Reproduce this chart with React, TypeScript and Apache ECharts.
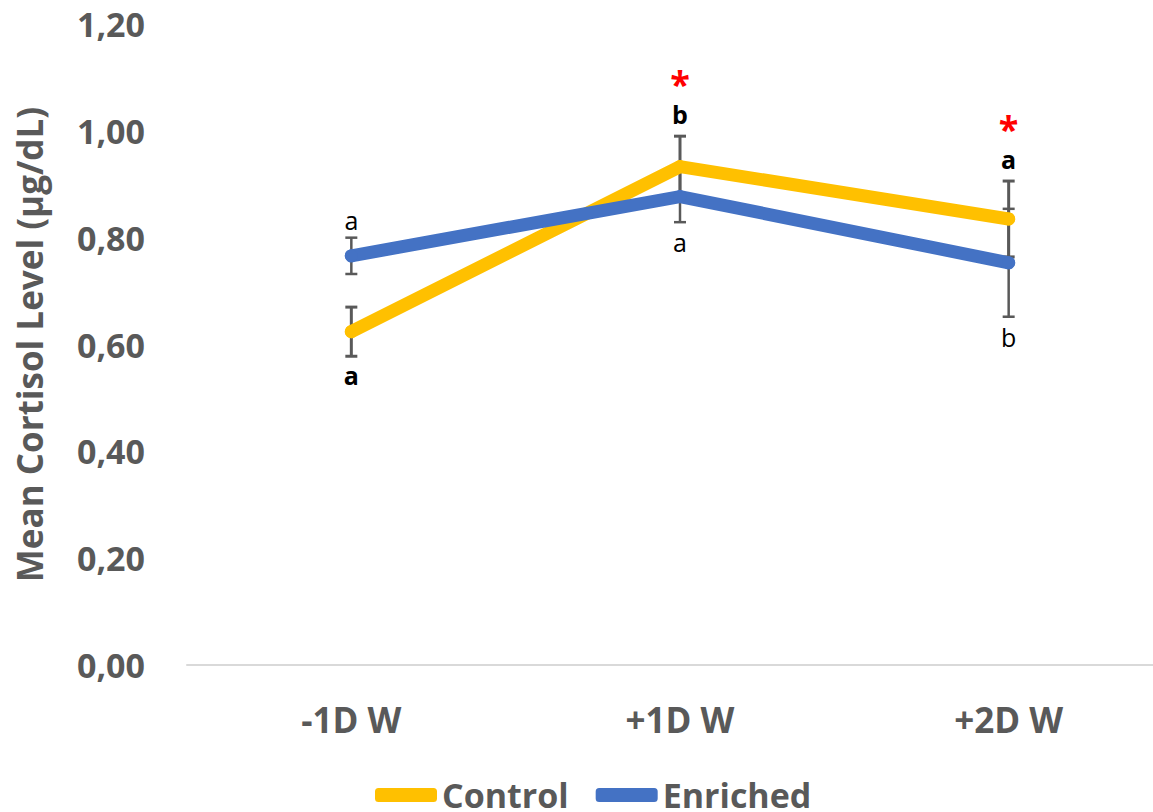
import React, { useEffect, useRef } from "react";
import * as echarts from "echarts";

const categories = ["-1D W", "+1D W", "+2D W"];
const controlMean = [0.624, 0.933, 0.835];
const controlErr = [0.046, 0.057, 0.071];
const enrichedMean = [0.766, 0.877, 0.753];
const enrichedErr = [0.034, 0.048, 0.101];
const controlLetters = ["a", "b", "a"];
const controlLetterSide = ["below", "above", "above"];
const enrichedLetters = ["a", "a", "b"];
const enrichedLetterSide = ["above", "below", "below"];
const significance = ["", "*", "*"];
const yTicks = [0, 0.2, 0.4, 0.6, 0.8, 1.0, 1.2];

const FONT = "Open Sans";
const GRAY = "#595959";

function errorBarSeries(name: string, means: number[], errs: number[], width: number) {
  return {
    type: "custom",
    name: name + "-err",
    z: 1,
    silent: true,
    data: means.map((m, i) => [i, m - errs[i], m + errs[i]]),
    renderItem: (params: any, api: any) => {
      const lo = api.coord([api.value(0), api.value(1)]);
      const hi = api.coord([api.value(0), api.value(2)]);
      const hw = 6;
      const style = { stroke: GRAY, lineWidth: width };
      return {
        type: "group",
        children: [
          { type: "line", shape: { x1: lo[0], y1: lo[1], x2: hi[0], y2: hi[1] }, style },
          { type: "line", shape: { x1: lo[0] - hw, y1: lo[1], x2: lo[0] + hw, y2: lo[1] }, style },
          { type: "line", shape: { x1: hi[0] - hw, y1: hi[1], x2: hi[0] + hw, y2: hi[1] }, style },
        ],
      };
    },
  };
}

export default function App() {
  const ref = useRef<HTMLDivElement>(null);
  useEffect(() => {
    if (!ref.current) return;
    const chart = echarts.init(ref.current, undefined, { renderer: "svg" });
    const option: any = {
      animation: false,
      textStyle: { fontFamily: FONT },
      grid: { left: 187, right: 7, top: 24, bottom: 147 },
      legend: {
        left: 370,
        top: 772,
        itemWidth: 62,
        itemHeight: 14,
        itemGap: 27,
        icon: "roundRect",
        data: ["Control", "Enriched"],
        textStyle: { fontFamily: FONT, fontSize: 34, fontWeight: "bold", color: GRAY, lineHeight: 36 },
      },
      xAxis: {
        type: "category",
        data: categories,
        boundaryGap: true,
        axisLine: { lineStyle: { color: "#d9d9d9", width: 2 } },
        axisTick: { show: false },
        axisLabel: { fontFamily: FONT, fontSize: 35, fontWeight: "bold", color: GRAY, margin: 37 },
      },
      yAxis: {
        type: "value",
        min: 0,
        max: 1.2,
        interval: 0.2,
        name: "Mean Cortisol Level (µg/dL)",
        nameLocation: "middle",
        nameRotate: 90,
        nameGap: 140,
        nameTextStyle: { fontFamily: FONT, fontSize: 35, fontWeight: "bold", color: GRAY },
        axisLine: { show: false },
        axisTick: { show: false },
        splitLine: { show: false },
        axisLabel: {
          fontFamily: FONT,
          fontSize: 34,
          fontWeight: "bold",
          color: GRAY,
          margin: 42,
          formatter: (v: number) => {
            const t = yTicks.find((x) => Math.abs(x - v) < 1e-9);
            return (t !== undefined ? t : v).toFixed(2).replace(".", ",");
          },
        },
      },
      series: [
        errorBarSeries("Control", controlMean, controlErr, 3),
        errorBarSeries("Enriched", enrichedMean, enrichedErr, 2.5),
        {
          type: "line",
          name: "Control",
          z: 2,
          data: controlMean,
          symbol: "circle",
          symbolSize: 13,
          color: "#FFC000",
          itemStyle: { color: "#FFC000" },
          lineStyle: { color: "#FFC000", width: 13, cap: "round", join: "round" },
        },
        {
          type: "line",
          name: "Enriched",
          z: 2,
          data: enrichedMean,
          symbol: "circle",
          symbolSize: 13,
          color: "#4472C4",
          itemStyle: { color: "#4472C4" },
          lineStyle: { color: "#4472C4", width: 13, cap: "round", join: "round" },
        },
        {
          type: "custom",
          name: "annotations",
          z: 3,
          silent: true,
          data: categories.map((_, i) => [i]),
          renderItem: (params: any, api: any) => {
            const i = params.dataIndex;
            const cTop = api.coord([i, controlMean[i] + controlErr[i]]);
            const cBot = api.coord([i, controlMean[i] - controlErr[i]]);
            const eTop = api.coord([i, enrichedMean[i] + enrichedErr[i]]);
            const eBot = api.coord([i, enrichedMean[i] - enrichedErr[i]]);
            const children: any[] = [];
            const cy = controlLetterSide[i] === "above" ? cTop[1] - 22 : cBot[1] + 19;
            children.push({
              type: "text",
              x: cTop[0],
              y: cy,
              style: {
                text: controlLetters[i],
                fontFamily: FONT,
                fontSize: 25,
                lineHeight: 24,
                fontWeight: "bold",
                fill: "#000",
                align: "center",
                verticalAlign: "middle",
              },
            });
            const ey = enrichedLetterSide[i] === "above" ? eTop[1] - 18 : eBot[1] + 20;
            children.push({
              type: "text",
              x: eTop[0],
              y: ey,
              style: {
                text: enrichedLetters[i],
                fontFamily: FONT,
                fontSize: 25,
                lineHeight: 24,
                fontWeight: "normal",
                fill: "#000",
                align: "center",
                verticalAlign: "middle",
              },
            });
            if (significance[i]) {
              children.push({
                type: "text",
                x: cTop[0],
                y: cy - 31,
                style: {
                  text: significance[i],
                  fontFamily: FONT,
                  fontSize: 36,
                  lineHeight: 20,
                  fontWeight: "bold",
                  fill: "#FF0000",
                  align: "center",
                  verticalAlign: "middle",
                },
              });
            }
            return { type: "group", children };
          },
        },
      ],
    };
    chart.setOption(option);
    return () => chart.dispose();
  }, []);
  return (
    <div style={{ position: "absolute", left: 0, top: 0, width: 1153, height: 812, overflow: "hidden", background: "#fff" }}>
      <div ref={ref} style={{ width: 1180, height: 812 }} />
    </div>
  );
}
